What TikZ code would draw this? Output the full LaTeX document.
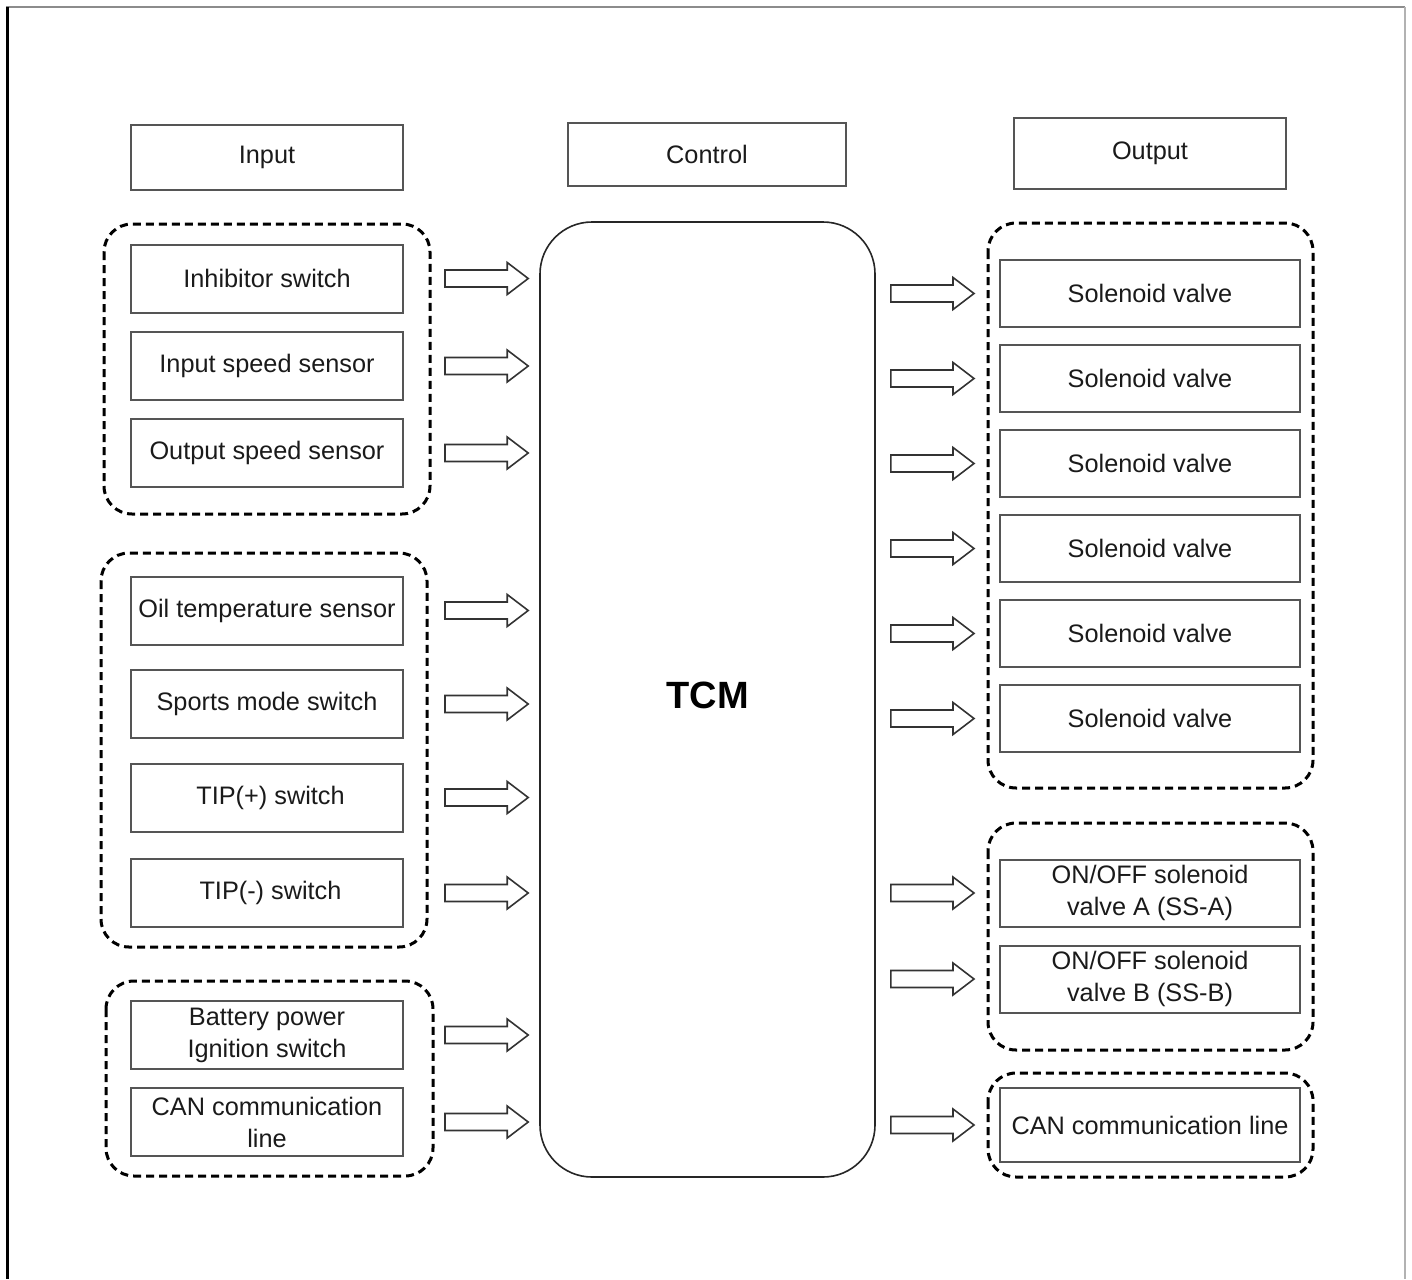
\documentclass[tikz,border=0pt]{standalone}
\usepackage{fontspec}
\setmainfont{Liberation Sans}
\usetikzlibrary{calc}
\definecolor{bx}{HTML}{555555}
\definecolor{txt}{HTML}{1a1a1a}
\begin{document}
\begin{tikzpicture}[x=1pt,y=-1pt,
  every node/.style={text=txt},
  lbl/.style={font=\fontsize{25.3}{32}\selectfont, align=center},
  hdr/.style={draw=bx, line width=2pt, lbl, inner sep=0pt},
  inbox/.style={draw=bx, line width=2pt, lbl, inner sep=0pt, minimum width=272, minimum height=68},
  outbox/.style={draw=bx, line width=2pt, lbl, inner sep=0pt, minimum width=300, minimum height=67},
  grp/.style={draw=black, line width=3pt, dash pattern=on 8pt off 5pt, rounded corners=28pt},
  fat/.style={draw=black!80, line width=1.6pt, line join=miter,
    to path={let \p1=(\tikztostart), \p2=(\tikztotarget) in
      (\x1,\y1+8.5pt) -- (\x2-21pt,\y1+8.5pt) -- (\x2-21pt,\y1+16pt) -- (\x2,\y1)
      -- (\x2-21pt,\y1-16pt) -- (\x2-21pt,\y1-8.5pt) -- (\x1,\y1-8.5pt) -- cycle}}
]
\useasboundingbox (0,0) rectangle (1412,1279);
% frame
\draw[black!45, line width=2pt] (6,7) -- (1405,7);
\draw[black!30, line width=2pt] (1405,7) -- (1405,1279);
\draw[black, line width=3pt] (7,7) -- (7,1279);

% headers
\node[hdr, minimum width=272, minimum height=65] (hin) at (267,157.5) {\raisebox{-3pt}{Input}};
\node[hdr, minimum width=278, minimum height=63] (hctl) at (707,154.5) {Control};
\node[hdr, minimum width=272, minimum height=71] (hout) at (1150,153.5) {Output};

% TCM
\node[draw=black!85, line width=1.6pt, rounded corners=52pt, minimum width=335, minimum height=955,
  font=\fontsize{38}{44}\selectfont\bfseries, text=black] (tcm) at (707.5,699.5) {\raisebox{9pt}{TCM}};

% input groups
\draw[grp] (104,224) rectangle (430,514);
\draw[grp] (101,553) rectangle (427,947);
\draw[grp] (106,981) rectangle (433,1176);

\node[inbox] (inhib) at (267,278.5) {Inhibitor switch};
\node[inbox] (inspd) at (267,366) {Input speed sensor};
\node[inbox] (outspd) at (267,453) {Output speed sensor};
\node[inbox] (oil) at (267,610.5) {Oil temperature sensor};
\node[inbox] (sport) at (267,704) {Sports mode switch};
\node[inbox] (tipp) at (267,797.5) {\hspace*{7pt}TIP(+) switch};
\node[inbox] (tipm) at (267,893) {\hspace*{7pt}TIP(-) switch};
\node[inbox] (batt) at (267,1035) {Battery power\\Ignition switch};
\node[inbox] (canin) at (267,1122) {CAN communication\\line};

% output groups
\draw[grp] (988,223) rectangle (1313,788);
\draw[grp] (988,823) rectangle (1313,1050);
\draw[grp] (988,1073) rectangle (1313,1177);

\node[outbox] (sv1) at (1150,293.5) {\raisebox{-3pt}{Solenoid valve}};
\node[outbox] (sv2) at (1150,378.5) {\raisebox{-3pt}{Solenoid valve}};
\node[outbox] (sv3) at (1150,463.5) {\raisebox{-3pt}{Solenoid valve}};
\node[outbox] (sv4) at (1150,548.5) {\raisebox{-3pt}{Solenoid valve}};
\node[outbox] (sv5) at (1150,633.5) {\raisebox{-3pt}{Solenoid valve}};
\node[outbox] (sv6) at (1150,718.5) {\raisebox{-3pt}{Solenoid valve}};
\node[outbox] (ona) at (1150,893) {ON/OFF solenoid\\valve A (SS-A)};
\node[outbox] (onb) at (1150,979) {ON/OFF solenoid\\valve B (SS-B)};
\node[outbox, minimum height=74] (canout) at (1150,1125) {CAN communication line};

% input arrows
\foreach \n in {inhib,inspd,outspd,oil,sport,tipp,tipm,batt,canin}{
  \draw[fat] ($(\n.east)+(41,0)$) to ($(\n.east -| tcm.west)+(-11,0)$);
}
% output arrows
\foreach \n in {sv1,sv2,sv3,sv4,sv5,sv6,ona,onb,canout}{
  \draw[fat] ($(\n.west -| tcm.east)+(15,0)$) to ($(\n.west)+(-25,0)$);
}
\end{tikzpicture}
\end{document}
